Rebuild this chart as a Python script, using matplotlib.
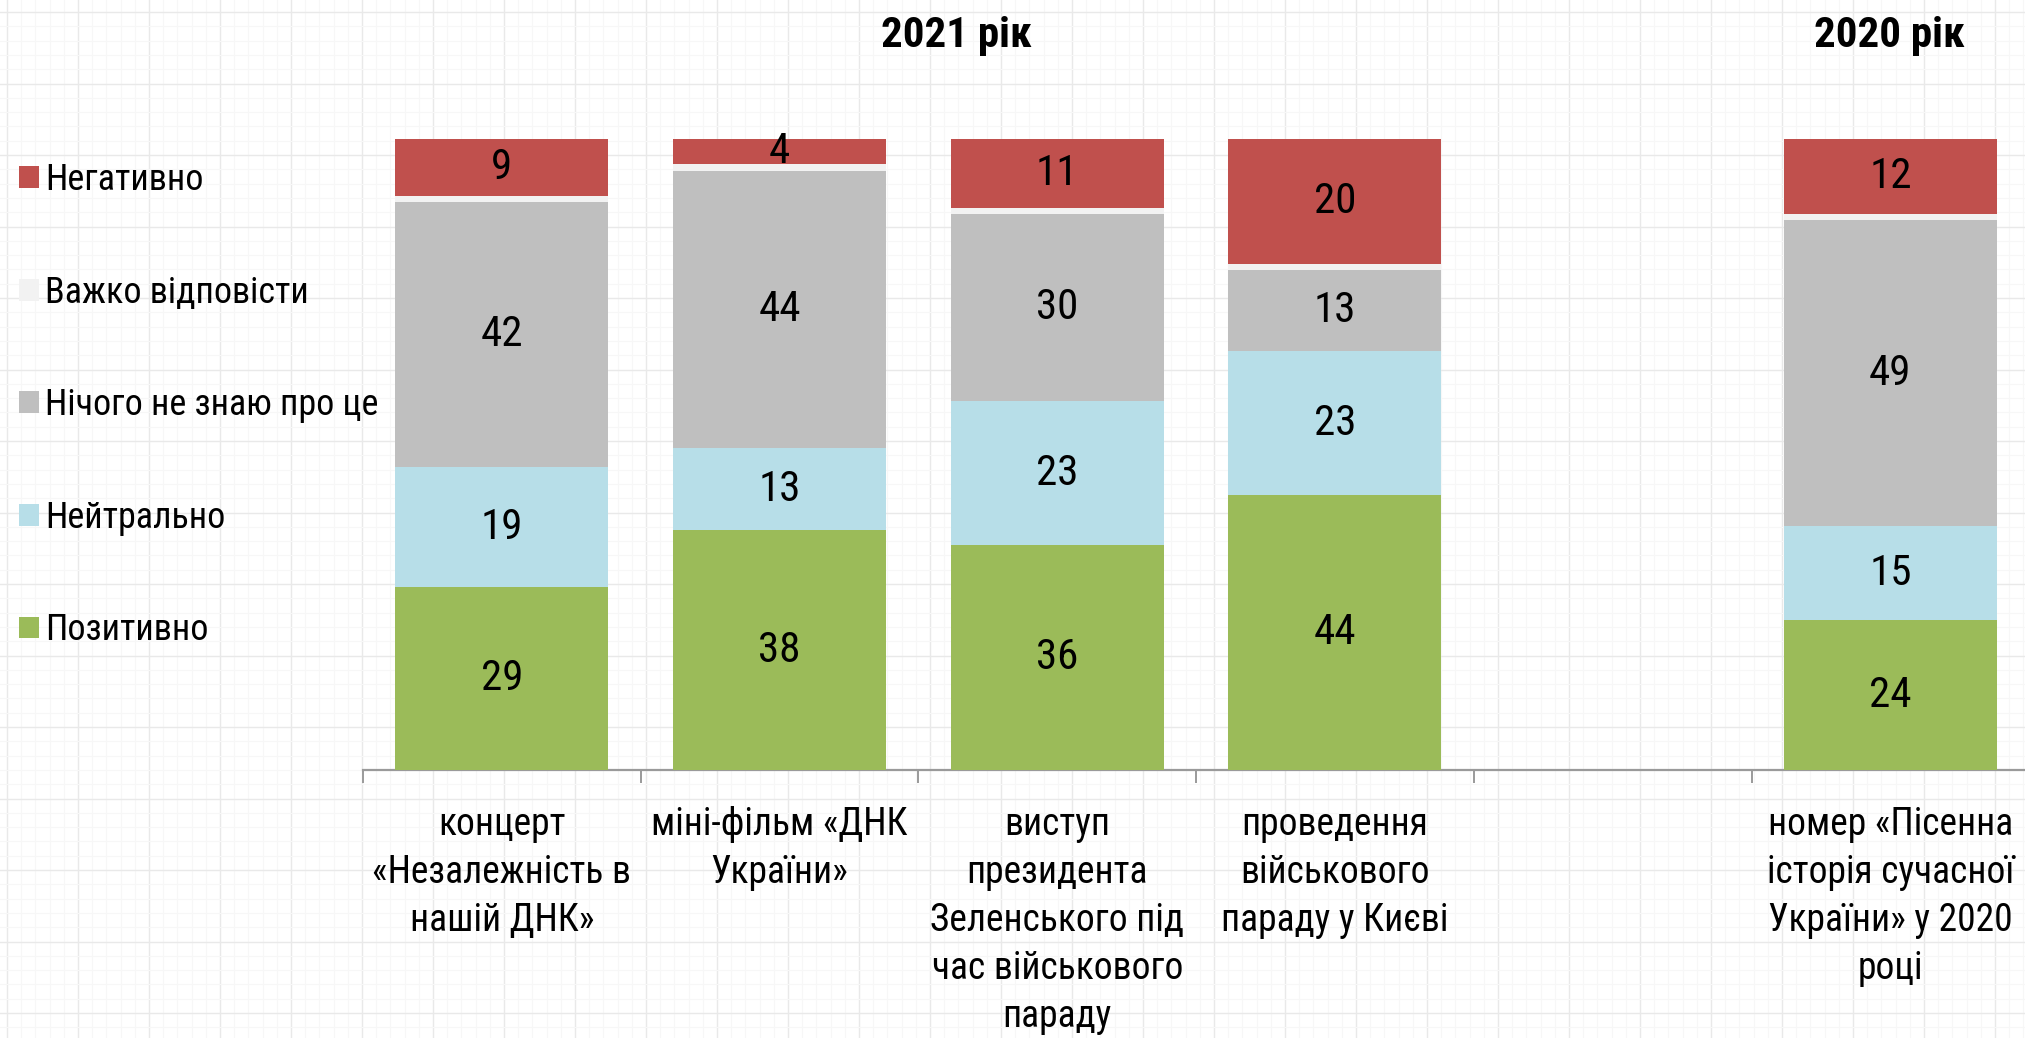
import numpy as np
import matplotlib
matplotlib.use("Agg")
import matplotlib.pyplot as plt
from matplotlib.patches import Patch
from matplotlib import font_manager as fm
from matplotlib.font_manager import FontProperties

# ---------------- data ----------------
categories = [
    "концерт\n«Незалежність в\nнашій ДНК»",
    "міні-фільм «ДНК\nУкраїни»",
    "виступ\nпрезидента\nЗеленського під\nчас військового\nпараду",
    "проведення\nвійськового\nпараду у Києві",
    "",
    "номер «Пісенна\nісторія сучасної\nУкраїни» у 2020\nроці",
]
positive  = [29, 38, 36, 44, 0, 24]
neutral   = [19, 13, 23, 23, 0, 15]
dont_know = [42, 44, 30, 13, 0, 49]
hard      = [1, 1, 1, 1, 0, 1]
negative  = [9, 4, 11, 20, 0, 12]

series_names = ["Позитивно", "Нейтрально", "Нічого не знаю про це", "Важко відповісти", "Негативно"]
series_vals = [positive, neutral, dont_know, hard, negative]
series_colors = ["#9BBB59", "#B7DEE8", "#BFBFBF", "#F2F2F2", "#C0504D"]
show_labels = [True, True, True, False, True]
group_titles = ["2021 рік", "2020 рік"]

# ---------------- fonts: look for a narrow / condensed face ----------------
def _stretch_val(s):
    if isinstance(s, (int, float)):
        return s
    table = {"ultra-condensed": 100, "extra-condensed": 200, "condensed": 300,
             "semi-condensed": 400, "normal": 500}
    return table.get(str(s).lower(), 500)

def _weight_val(w):
    if isinstance(w, (int, float)):
        return w
    table = {"regular": 400, "normal": 400, "book": 400, "bold": 700, "medium": 500}
    return table.get(str(w).lower(), 400)

priority = ["liberation sans narrow", "arial narrow", "roboto condensed",
            "open sans condensed", "noto sans", "dejavu sans", "liberation sans", "roboto", "lato"]

def find_font(bold):
    best = None
    for f in fm.fontManager.ttflist:
        name = f.name.lower()
        fname = f.fname.lower()
        if f.style != "normal":
            continue
        narrow = ("narrow" in name or "condensed" in name or "narrow" in fname
                  or "condensed" in fname or _stretch_val(f.stretch) < 500)
        if not narrow:
            continue
        if "semicondensed" in fname.replace("-", "") or "extracondensed" in fname.replace("-", ""):
            continue
        base = None
        for i, p in enumerate(priority):
            if name.startswith(p.split()[0]) and (p in name or p.split()[0] in name):
                base = i
                break
        if base is None:
            continue
        w = _weight_val(f.weight)
        want = 700 if bold else 400
        score = base * 1000 + abs(w - want)
        if best is None or score < best[0]:
            best = (score, f.fname)
    return best[1] if best else None

reg_path = find_font(False)
bold_path = find_font(True)
have_narrow = reg_path is not None
plt.rcParams["font.family"] = ["Liberation Sans", "DejaVu Sans"]

def fp(size, bold=False):
    if have_narrow:
        path = bold_path if (bold and bold_path) else reg_path
        p = FontProperties(fname=path, size=size)
        if bold and not bold_path:
            p.set_weight("bold")
        return p
    return FontProperties(family=["Liberation Sans", "DejaVu Sans"], size=size,
                          weight="bold" if bold else "normal")

k = 1.0 if have_narrow else 0.88   # shrink wide fallback font so texts fit
SZ_VAL, SZ_CAT, SZ_LEG, SZ_TTL = 31, 27 * k, 26 * k, 31

W, H = 2025, 1038
fig = plt.figure(figsize=(W / 100, H / 100), dpi=100)
fig.patch.set_facecolor("white")

# faint graph-paper background
bg = fig.add_axes([0, 0, 1, 1], zorder=-5)
bg.set_xlim(0, W)
bg.set_ylim(H, 0)
bg.axis("off")
for xx in np.arange(7, W, 14.2):
    major = abs(((xx - 7) / 71.0) - round((xx - 7) / 71.0)) < 0.05
    bg.axvline(xx, color="#e9e9e9" if major else "#f7f7f7", lw=1.0 if major else 0.8, zorder=0)
for yy in np.arange(12, H, 14.3):
    major = abs(((yy - 12) / 71.5) - round((yy - 12) / 71.5)) < 0.05
    bg.axhline(yy, color="#e9e9e9" if major else "#f7f7f7", lw=1.0 if major else 0.8, zorder=0)

# ---------------- main axes ----------------
cat_w = 277.7
left = 363 / W
ax = fig.add_axes([left, 1 - 770 / H, 6 * cat_w / W, (770 - 139) / H])
ax.patch.set_alpha(0)

x = np.arange(len(categories))
vals = np.array(series_vals, dtype=float)
totals = vals.sum(axis=0)
totals[totals == 0] = 1
pct = vals / totals * 100

bottom = np.zeros(len(categories))
handles = []
for name, v, p, c, lab in zip(series_names, vals, pct, series_colors, show_labels):
    ax.bar(x, p, 0.767, bottom=bottom, color=c, label=name, zorder=3, linewidth=0)
    if lab:
        for xi, vi, pi, bi in zip(x, v, p, bottom):
            if vi > 0:
                ax.text(xi, bi + pi / 2, f"{int(vi)}", ha="center", va="center",
                        fontproperties=fp(SZ_VAL), color="black", zorder=5)
    handles.append(Patch(facecolor=c, label=name))
    bottom = bottom + p

ax.set_xlim(-0.5, len(categories) - 0.5)
ax.set_ylim(0, 100)
ax.set_yticks([])
for s in ["left", "right", "top"]:
    ax.spines[s].set_visible(False)
ax.spines["bottom"].set_color("#9a9a9a")
ax.spines["bottom"].set_linewidth(1.6)

ax.set_xticks(x)
ax.set_xticklabels(categories, linespacing=1.38)
for t in ax.get_xticklabels():
    t.set_fontproperties(fp(SZ_CAT))
ax.tick_params(axis="x", which="major", length=0, pad=26)
ax.set_xticks(np.arange(-0.5, len(categories)), minor=True)
ax.tick_params(axis="x", which="minor", length=9.5, width=1.4, color="#9a9a9a", direction="out")

# group titles
fig.text(956 / W, 1 - 47 / H, group_titles[0], ha="center", va="baseline",
         fontproperties=fp(SZ_TTL, bold=True))
fig.text(1889 / W, 1 - 47 / H, group_titles[1], ha="center", va="baseline",
         fontproperties=fp(SZ_TTL, bold=True))

# legend (reverse order: Негативно on top)
leg = fig.legend(handles=handles[::-1], loc="upper left",
                 bbox_to_anchor=(19 / W, 1 - 162 / H), frameon=False,
                 prop=fp(SZ_LEG), handlelength=0.55, handleheight=0.55,
                 handletextpad=0.18, labelspacing=2.12 / k, borderpad=0, borderaxespad=0)

fig.savefig("out.png", dpi=100, facecolor="white")
